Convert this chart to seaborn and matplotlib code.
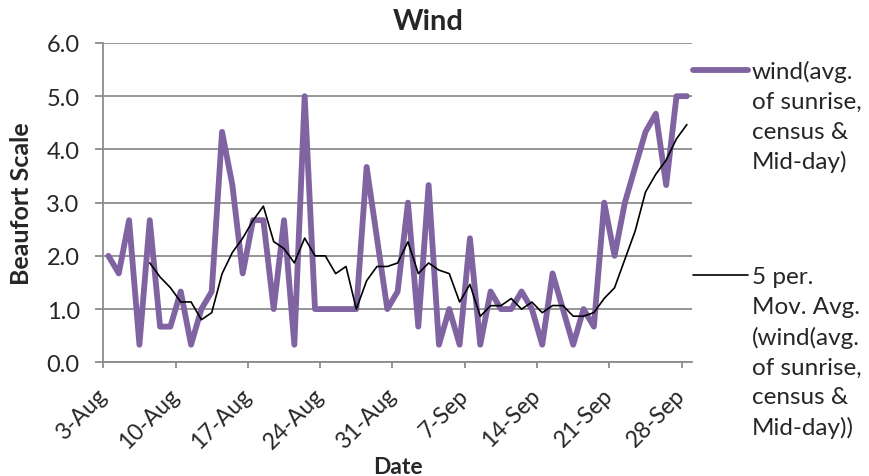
import matplotlib
matplotlib.use("Agg")
import matplotlib.pyplot as plt
import matplotlib.transforms as mtransforms
from matplotlib.lines import Line2D
import seaborn as sns
import pandas as pd
import numpy as np

# ---- data ----
start_date = "2013-08-03"
wind = [2.0, 1.67, 2.67, 0.33, 2.67, 0.67, 0.67, 1.33, 0.33, 1.0,
        1.33, 4.33, 3.33, 1.67, 2.67, 2.67, 1.0, 2.67, 0.33, 5.0,
        1.0, 1.0, 1.0, 1.0, 1.0, 3.67, 2.33, 1.0, 1.33, 3.0,
        0.67, 3.33, 0.33, 1.0, 0.33, 2.33, 0.33, 1.33, 1.0, 1.0,
        1.33, 1.0, 0.33, 1.67, 1.0, 0.33, 1.0, 0.67, 3.0, 2.0,
        3.0, 3.67, 4.33, 4.67, 3.33, 5.0, 5.0]
tick_labels = ["3-Aug", "10-Aug", "17-Aug", "24-Aug", "31-Aug",
               "7-Sep", "14-Sep", "21-Sep", "28-Sep"]
y_ticks = [0.0, 1.0, 2.0, 3.0, 4.0, 5.0, 6.0]
ma_window = 5
label_wind = ["wind(avg.", "of sunrise,", "census &", "Mid-day)"]
label_ma = ["5 per.", "Mov. Avg.", "(wind(avg.", "of sunrise,", "census &", "Mid-day))"]

dates = pd.date_range(start_date, periods=len(wind), freq="D")
df = pd.DataFrame({"date": dates, "wind": wind})
df["day"] = (df["date"] - df["date"].iloc[0]).dt.days
df["ma"] = df["wind"].rolling(ma_window).mean()

tick_dates = pd.to_datetime([f"{l}-2013" for l in tick_labels], format="%d-%b-%Y")
tick_pos = [(d - dates[0]).days - 0.5 for d in tick_dates]

# ---- style ----
sns.set_style("white")
plt.rcParams["font.family"] = ["Lato", "DejaVu Sans"]
PURPLE = "#8064A2"
GRID = "#8C8C8C"

fig = plt.figure(figsize=(8.7, 4.77), dpi=100)
ax = fig.add_axes([0.1187, 0.2384, 0.6767, 0.6694])

sns.lineplot(data=df, x="day", y="wind", ax=ax, color=PURPLE, linewidth=4.2,
             solid_capstyle="round", solid_joinstyle="round", zorder=3)
sns.lineplot(data=df.dropna(), x="day", y="ma", ax=ax, color="black", linewidth=1.2,
             zorder=4)

ax.set_xlim(-0.5, len(wind) - 0.5)
ax.set_ylim(0, 6)
ax.set_yticks(y_ticks)
ax.set_yticklabels([f"{v:.1f}" for v in y_ticks])
ax.set_xticks(tick_pos)
ax.set_xticklabels(tick_labels, rotation=45, ha="right", va="center",
                   rotation_mode="anchor")
shift = mtransforms.ScaledTranslation(0.08, 0, fig.dpi_scale_trans)
for lbl in ax.get_xticklabels():
    lbl.set_transform(lbl.get_transform() + shift)

ax.grid(axis="y", color=GRID, linewidth=1.3)
ax.grid(axis="x", visible=False)
for s in ["top", "right"]:
    ax.spines[s].set_visible(False)
for s in ["left", "bottom"]:
    ax.spines[s].set_color(GRID)
    ax.spines[s].set_linewidth(1.3)
ax.tick_params(axis="y", length=6, width=1.3, color=GRID, pad=11,
               labelsize=17, left=True)
ax.tick_params(axis="x", length=4, width=1.3, color=GRID, pad=17,
               labelsize=16.5, bottom=True)

ax.set_ylabel("Beaufort Scale", fontsize=18, fontweight="bold")
ax.yaxis.set_label_coords(-0.119, 0.5)
ax.set_xlabel("Date", fontsize=16.5, fontweight="bold", va="center")
ax.xaxis.set_label_coords(0.5, -0.326)
fig.text(428 / 870, 1 - 22 / 477, "Wind", ha="center", va="center",
         fontsize=21, fontweight="bold")

# ---- legends ----
def make_legend(color, lw, lines, top_y):
    handles = [Line2D([], [], color=color, linewidth=lw)]
    handles += [Line2D([], [], color="none", linewidth=lw) for _ in lines[1:]]
    leg = fig.legend(handles, lines, loc="upper left",
                     bbox_to_anchor=(693 / 870, 1 - top_y / 477),
                     frameon=False, fontsize=17.5, handlelength=2.25,
                     handletextpad=0.18, labelspacing=0.36, borderaxespad=0,
                     borderpad=0)
    return leg

make_legend(PURPLE, 4.2, label_wind, 61)
make_legend("black", 1.2, label_ma, 267)

fig.savefig("out.png", dpi=100)
